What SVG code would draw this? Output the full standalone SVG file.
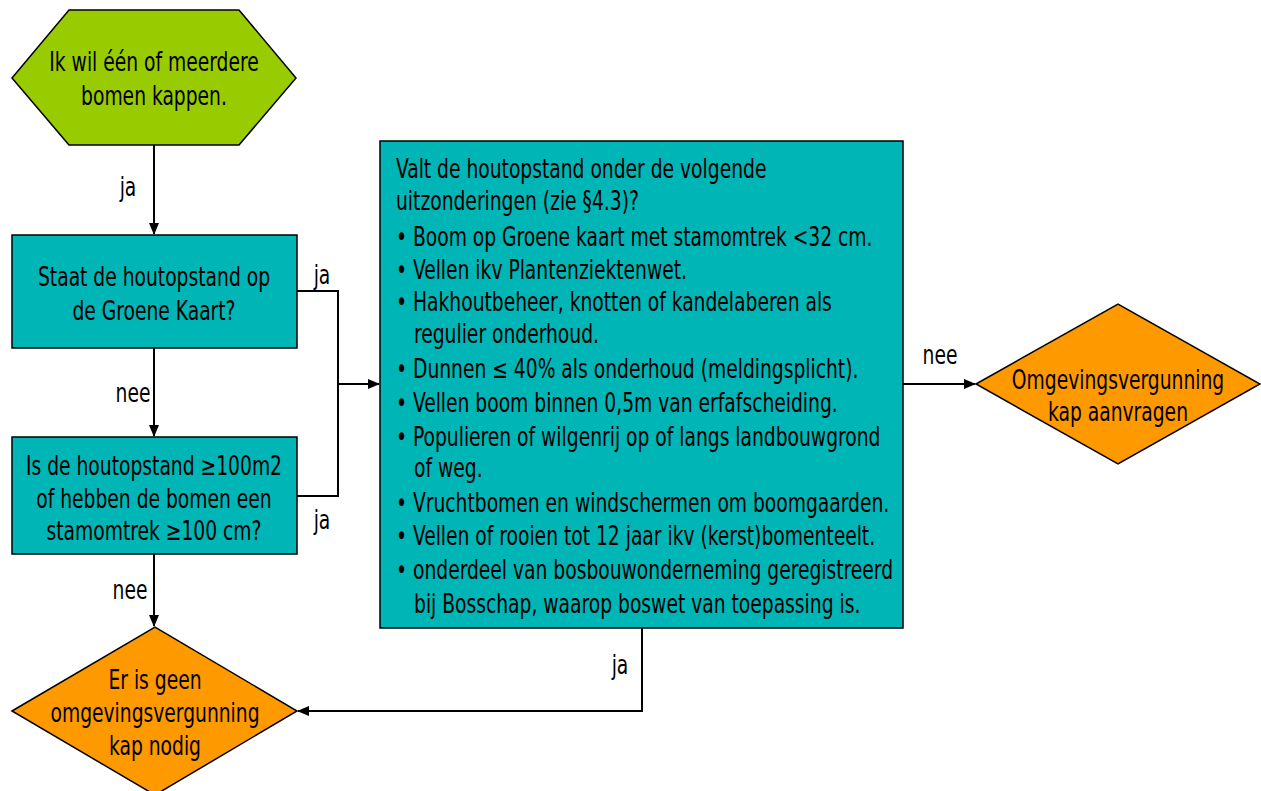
<svg xmlns="http://www.w3.org/2000/svg" width="1261" height="791" viewBox="0 0 1261 791">
<style>
text{font-family:"DejaVu Sans Condensed","Liberation Sans Narrow","Liberation Sans",sans-serif;font-size:26px;fill:#000}
.c{text-anchor:middle}
.shape{stroke:#000;stroke-width:1.5}
.teal{fill:#00B5B5}
.orange{fill:#FF9900}
.green{fill:#99CC00}
.line{fill:none;stroke:#000;stroke-width:2}
</style>
<defs>
<marker id="arr" markerWidth="12" markerHeight="10" refX="11" refY="5" orient="auto" markerUnits="userSpaceOnUse">
<path d="M0,0 L12,5 L0,10 Z" fill="#000"/>
</marker>
</defs>
<rect width="1261" height="791" fill="#fff"/>
<g id="connectors">
<line class="line" x1="154" y1="145" x2="154" y2="234" marker-end="url(#arr)"/>
<line class="line" x1="154" y1="348" x2="154" y2="436" marker-end="url(#arr)"/>
<line class="line" x1="154" y1="554" x2="154" y2="626" marker-end="url(#arr)"/>
<polyline class="line" points="297,291 338,291 338,496 297,496"/>
<line class="line" x1="338" y1="384" x2="379" y2="384" marker-end="url(#arr)"/>
<line class="line" x1="903" y1="384" x2="975" y2="384" marker-end="url(#arr)"/>
<polyline class="line" points="642,628 642,711 298,711" marker-end="url(#arr)"/>
<text transform="matrix(0.8 0 0 1 128 196)" class="c">ja</text>
<text transform="matrix(0.8 0 0 1 133 402)" class="c">nee</text>
<text transform="matrix(0.8 0 0 1 130 599)" class="c">nee</text>
<text transform="matrix(0.8 0 0 1 322 284)" class="c">ja</text>
<text transform="matrix(0.8 0 0 1 322 529)" class="c">ja</text>
<text transform="matrix(0.8 0 0 1 940 364)" class="c">nee</text>
<text transform="matrix(0.8 0 0 1 620 674)" class="c">ja</text>
</g>
<g id="start">
<polygon class="shape green" points="69,10 239,10 296,78 239,145 69,145 12,78"/>
<text transform="matrix(0.8 0 0 1 154 71)" class="c">Ik wil één of meerdere</text>
<text transform="matrix(0.8 0 0 1 154 105)" class="c">bomen kappen.</text>
</g>
<g id="q1">
<rect class="shape teal" x="12" y="235" width="285" height="113"/>
<text transform="matrix(0.8 0 0 1 154 286)" class="c">Staat de houtopstand op</text>
<text transform="matrix(0.8 0 0 1 154 320)" class="c">de Groene Kaart?</text>
</g>
<g id="q2">
<rect class="shape teal" x="12" y="437" width="285" height="117"/>
<text transform="matrix(0.8 0 0 1 154 475)" class="c">Is de houtopstand ≥100m2</text>
<text transform="matrix(0.8 0 0 1 154 508)" class="c">of hebben de bomen een</text>
<text transform="matrix(0.8 0 0 1 154 540)" class="c">stamomtrek ≥100 cm?</text>
</g>
<g id="q3">
<rect class="shape teal" x="380" y="141" width="523" height="487"/>
<text transform="matrix(0.8 0 0 1 396 178)">Valt de houtopstand onder de volgende</text>
<text transform="matrix(0.8 0 0 1 396 210)">uitzonderingen (zie §4.3)?</text>
<text transform="matrix(0.8 0 0 1 396 246)">• Boom op Groene kaart met stamomtrek &lt;32 cm.</text>
<text transform="matrix(0.8 0 0 1 396 279)">• Vellen ikv Plantenziektenwet.</text>
<text transform="matrix(0.8 0 0 1 396 311)">• Hakhoutbeheer, knotten of kandelaberen als</text>
<text transform="matrix(0.8 0 0 1 414 343)">regulier onderhoud.</text>
<text transform="matrix(0.8 0 0 1 396 378)">• Dunnen ≤ 40% als onderhoud (meldingsplicht).</text>
<text transform="matrix(0.8 0 0 1 396 412)">• Vellen boom binnen 0,5m van erfafscheiding.</text>
<text transform="matrix(0.8 0 0 1 396 446)">• Populieren of wilgenrij op of langs landbouwgrond</text>
<text transform="matrix(0.8 0 0 1 414 477)">of weg.</text>
<text transform="matrix(0.8 0 0 1 396 512)">• Vruchtbomen en windschermen om boomgaarden.</text>
<text transform="matrix(0.8 0 0 1 396 545)">• Vellen of rooien tot 12 jaar ikv (kerst)bomenteelt.</text>
<text transform="matrix(0.8 0 0 1 396 579)">• onderdeel van bosbouwonderneming geregistreerd</text>
<text transform="matrix(0.8 0 0 1 414 613)">bij Bosschap, waarop boswet van toepassing is.</text>
</g>
<g id="apply">
<polygon class="shape orange" points="976,384 1118,304 1260,384 1118,464"/>
<text transform="matrix(0.8 0 0 1 1118 389)" class="c">Omgevingsvergunning</text>
<text transform="matrix(0.8 0 0 1 1118 421)" class="c">kap aanvragen</text>
</g>
<g id="none">
<polygon class="shape orange" points="12,711 155,627 297,711 155,795"/>
<text transform="matrix(0.8 0 0 1 155 689)" class="c">Er is geen</text>
<text transform="matrix(0.8 0 0 1 155 722)" class="c">omgevingsvergunning</text>
<text transform="matrix(0.8 0 0 1 155 755)" class="c">kap nodig</text>
</g>
</svg>
